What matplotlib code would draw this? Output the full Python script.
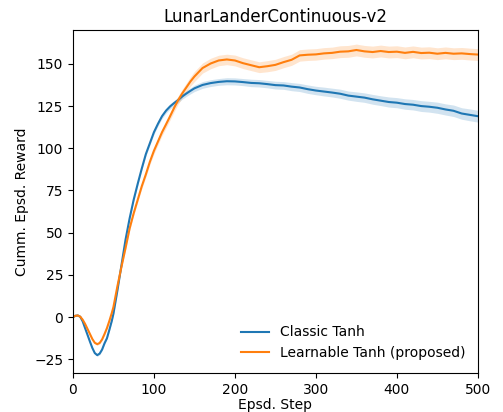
import numpy as np
import matplotlib.pyplot as plt

# --- Data ---
# denser sampling at the start where the curves bend the most
steps = list(range(0, 49, 3)) + list(range(50, 151, 5)) + list(range(160, 501, 10))

classic_mean = [
    # 0 .. 48 (step 3)
    0, 0.8, 1.0, 0.2, -2.5, -6.5, -10.5, -14.5, -18.3, -21.3, -22.5, -21.6,
    -19.2, -15.5, -12.5, -7.5, -2.2,
    # 50 .. 150 (step 5)
    2, 16, 31, 46, 58.5, 69.5, 79, 88, 96.5, 103, 109.5, 114.5, 119, 122.3,
    124.8, 126.8, 128.6, 130.7, 132.4, 134, 135.5,
    # 160 .. 500 (step 10)
    137.5, 138.6, 139.3, 139.7, 139.6, 139.2, 138.7, 138.5, 138, 137.4, 137.2,
    136.5, 136, 135, 134.2, 133.6, 133, 132.3, 131.2, 130.6, 130, 129, 128.2,
    127.4, 127, 126.2, 125.8, 125, 124.6, 124, 123, 122.2, 120.6, 119.8, 119]
classic_std = [
    0.3, 0.3, 0.3, 0.4, 0.4, 0.5, 0.5, 0.6, 0.6, 0.7, 0.7, 0.7, 0.7, 0.7, 0.7,
    0.7, 0.8,
    0.8, 0.8, 0.9, 0.9, 1.0, 1.0, 1.1, 1.1, 1.2, 1.2, 1.3, 1.3, 1.4, 1.4, 1.5,
    1.5, 1.6, 1.6, 1.7, 1.8, 1.9,
    2.0, 2.0, 2.0, 2.1, 2.1, 2.1, 2.2, 2.2, 2.2, 2.3, 2.3, 2.4, 2.4, 2.5, 2.5,
    2.6, 2.6, 2.7, 2.7, 2.8, 2.8, 2.9, 2.9, 3.0, 3.0, 3.1, 3.1, 3.2, 3.2, 3.3,
    3.3, 3.4, 3.4, 3.5, 3.5]

learnable_mean = [
    0, 0.8, 1.0, 0.3, -1.5, -4, -7, -10, -13, -15.2, -16, -15.3, -13.2, -10,
    -6.5, -2.2, 2.5,
    6, 18.5, 30, 41, 52.5, 61.5, 69.5, 77.5, 84.5, 92, 98.5, 104, 109.5, 114.2,
    119, 124, 128.6, 132.5, 136, 139.5, 142.5,
    147.5, 150.2, 152, 152.6, 152, 150.4, 149.2, 148, 148.6, 149.4, 151, 152.4,
    155, 155.4, 155.6, 156.2, 156.5, 157.2, 157.4, 158.2, 157.4, 157, 157.6,
    157, 157.2, 156.5, 157.1, 156.4, 156.6, 156, 156.5, 156, 156.2, 155.8,
    155.5]
learnable_std = [
    0.3, 0.3, 0.3, 0.4, 0.4, 0.5, 0.5, 0.6, 0.6, 0.7, 0.7, 0.7, 0.7, 0.7, 0.7,
    0.7, 0.8,
    0.8, 0.9, 1.0, 1.1, 1.2, 1.3, 1.4, 1.5, 1.6, 1.7, 1.8, 1.9, 2.0, 2.1, 2.2,
    2.3, 2.4, 2.5, 2.6, 2.8, 3.0,
    3.0, 3.1, 3.1, 3.1, 3.2, 3.2, 3.2, 3.2, 3.3, 3.3, 3.3, 3.3, 3.4, 3.4, 3.4,
    3.4, 3.4, 3.5, 3.5, 3.5, 3.5, 3.5, 3.5, 3.5, 3.5, 3.5, 3.5, 3.5, 3.5, 3.5,
    3.5, 3.5, 3.5, 3.5, 3.5]

# --- Plotting ---
fig = plt.figure(figsize=(5.03, 4.12), dpi=100)
ax = fig.add_axes([0.145, 0.095, 0.805, 0.832])

x = np.array(steps)
for mean, std, color, label in [
        (classic_mean, classic_std, '#1f77b4', 'Classic Tanh'),
        (learnable_mean, learnable_std, '#ff7f0e', 'Learnable Tanh (proposed)')]:
    m = np.array(mean)
    s = np.array(std)
    ax.plot(x, m, color=color, linewidth=1.5, label=label)
    ax.fill_between(x, m - s, m + s, color=color, alpha=0.2, linewidth=0)

ax.set_xlim(0, 500)
ax.set_ylim(-33, 170)
ax.set_yticks([-25, 0, 25, 50, 75, 100, 125, 150])
ax.set_xticks([0, 100, 200, 300, 400, 500])
ax.set_xlabel('Epsd. Step', labelpad=1)
ax.set_ylabel('Cumm. Epsd. Reward')
ax.set_title('LunarLanderContinuous-v2', fontsize=12)
ax.legend(loc='lower right', frameon=False)

plt.savefig('out.png', dpi=100)
plt.close(fig)
